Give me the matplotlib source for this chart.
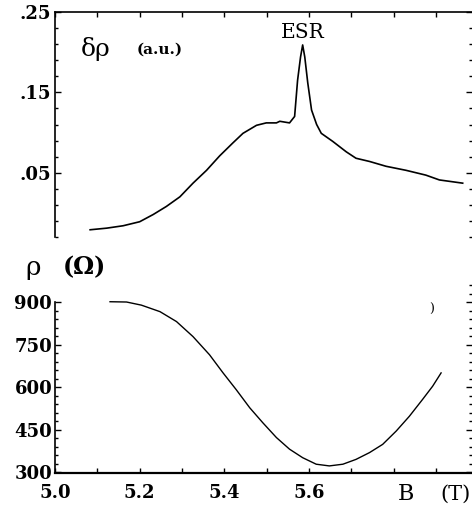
import matplotlib
matplotlib.use("Agg")
import matplotlib.pyplot as plt
import numpy as np
from matplotlib.font_manager import FontProperties
from matplotlib.ticker import FixedLocator, FixedFormatter, NullFormatter

# ---- data ----
B_top = [5.083, 5.122, 5.161, 5.200, 5.232, 5.263, 5.295, 5.326, 5.358, 5.389,
         5.420, 5.444, 5.476, 5.499, 5.523, 5.531, 5.554, 5.566, 5.573, 5.580,
         5.585, 5.590, 5.597, 5.606, 5.618, 5.629, 5.656, 5.688, 5.711, 5.743,
         5.782, 5.829, 5.876, 5.908, 5.963]
d_rho = [-0.021, -0.019, -0.016, -0.011, -0.002, 0.008, 0.020, 0.037, 0.053, 0.071,
         0.087, 0.099, 0.109, 0.112, 0.112, 0.114, 0.112, 0.120, 0.165, 0.194,
         0.209, 0.194, 0.162, 0.128, 0.110, 0.099, 0.089, 0.076, 0.068, 0.064,
         0.058, 0.053, 0.047, 0.041, 0.037]

B_bot = [5.130, 5.169, 5.204, 5.248, 5.287, 5.326, 5.365, 5.397, 5.428, 5.460,
         5.491, 5.523, 5.554, 5.585, 5.617, 5.648, 5.680, 5.711, 5.743, 5.774,
         5.806, 5.837, 5.868, 5.892, 5.912]
rho = [901, 900, 889, 866, 831, 778, 714, 650, 591, 527,
       474, 422, 381, 351, 328, 322, 328, 345, 369, 398,
       445, 497, 556, 603, 650]

top_yticks = [0.05, 0.15, 0.25]
top_yticklabels = [".05", ".15", ".25"]
bot_yticks = [300, 450, 600, 750, 900]
bot_yticklabels = ["300", "450", "600", "750", "900"]
bot_xticks = [5.0, 5.2, 5.4, 5.6]
bot_xticklabels = ["5.0", "5.2", "5.4", "5.6"]

W, H = 472, 509
fig = plt.figure(figsize=(W / 100, H / 100), dpi=100)


def fx(px):
    return px / W


def fy(py):
    return 1 - py / H


serif = ["DejaVu Serif"]
tick_fp = FontProperties(family=serif, weight="bold", size=13)

XMIN, XMAX = 5.0, 5.985
xminor = np.round(np.arange(5.0, 5.95, 0.1), 2)

# ---------------- top panel ----------------
ax1 = fig.add_axes([fx(55), fy(237), fx(472) - fx(55), fy(12) - fy(237)])
ax1.plot(B_top, d_rho, color="black", lw=1.2)
ax1.set_xlim(XMIN, XMAX)
ax1.set_ylim(-0.03, 0.25)
for s in ["bottom", "right"]:
    ax1.spines[s].set_visible(False)
for s in ["left", "top"]:
    ax1.spines[s].set_linewidth(1.2)
ax1.yaxis.set_major_locator(FixedLocator(top_yticks))
ax1.yaxis.set_major_formatter(FixedFormatter(top_yticklabels))
ax1.yaxis.set_minor_locator(FixedLocator(np.round(np.arange(-0.03, 0.25, 0.02), 3)))
ax1.xaxis.set_major_locator(FixedLocator(xminor))
ax1.xaxis.set_major_formatter(NullFormatter())
ax1.tick_params(axis="x", which="both", direction="in", top=True, bottom=False,
                labeltop=False, labelbottom=False, length=3.5, width=1)
ax1.tick_params(axis="y", which="both", direction="in", left=True, right=True,
                width=1, pad=3)
ax1.tick_params(axis="y", which="major", length=4)
ax1.tick_params(axis="y", which="minor", length=2.5)
for lab in ax1.get_yticklabels():
    lab.set_fontproperties(tick_fp)

ax1.text(fx(96), fy(49), "δρ", transform=fig.transFigure, fontsize=18,
         family=serif, ha="center", va="center")
ax1.text(fx(160), fy(50), "(a.u.)", transform=fig.transFigure, fontsize=11,
         family=serif, weight="bold", ha="center", va="center")
ax1.text(fx(303), fy(32), "ESR", transform=fig.transFigure, fontsize=14.5,
         family=serif, ha="center", va="center")

# ---------------- bottom panel ----------------
ax2 = fig.add_axes([fx(55), fy(473), fx(472) - fx(55), fy(285) - fy(473)])
ax2.plot(B_bot, rho, color="black", lw=1.0)
ax2.set_xlim(XMIN, XMAX)
ax2.set_ylim(297, 960)
for s in ["top", "right"]:
    ax2.spines[s].set_visible(False)
ax2.spines["left"].set_bounds(297, 900)
ax2.spines["left"].set_linewidth(1.2)
ax2.spines["bottom"].set_linewidth(1.6)
ax2.yaxis.set_major_locator(FixedLocator(bot_yticks))
ax2.yaxis.set_major_formatter(FixedFormatter(bot_yticklabels))
ax2.yaxis.set_minor_locator(FixedLocator(np.arange(300, 901, 30)))
ax2.xaxis.set_major_locator(FixedLocator(bot_xticks))
ax2.xaxis.set_major_formatter(FixedFormatter(bot_xticklabels))
ax2.xaxis.set_minor_locator(FixedLocator([5.1, 5.3, 5.5, 5.7, 5.8, 5.9]))
ax2.tick_params(axis="x", which="both", direction="in", length=3.5, width=1, pad=8)
ax2.tick_params(axis="y", which="both", direction="in", width=1, pad=2)
ax2.tick_params(axis="y", which="major", length=4)
ax2.tick_params(axis="y", which="minor", length=2.5)
for lab in ax2.get_yticklabels() + ax2.get_xticklabels():
    lab.set_fontproperties(tick_fp)

# right-hand ticks (extend above 900)
ax2r = ax2.twinx()
ax2r.set_ylim(297, 960)
for s in ax2r.spines.values():
    s.set_visible(False)
ax2r.yaxis.set_major_locator(FixedLocator(bot_yticks))
ax2r.yaxis.set_minor_locator(FixedLocator(np.arange(300, 961, 30)))
ax2r.yaxis.set_major_formatter(NullFormatter())
ax2r.tick_params(axis="y", which="both", direction="in", width=1)
ax2r.tick_params(axis="y", which="major", length=4)
ax2r.tick_params(axis="y", which="minor", length=2.5)

fig.text(fx(33), fy(268), "ρ", fontsize=19, family=serif, ha="center", va="center")
fig.text(fx(84), fy(267), "(Ω)", fontsize=17, family=serif, weight="bold",
         ha="center", va="center")
fig.text(fx(406), fy(494), "B", fontsize=16, family=serif, ha="center", va="center")
fig.text(fx(455), fy(494), "(T)", fontsize=15, family=serif, ha="center", va="center")
fig.text(fx(432), fy(309), ")", fontsize=9, family=serif, ha="center", va="center")

fig.savefig("out.png", dpi=100)
